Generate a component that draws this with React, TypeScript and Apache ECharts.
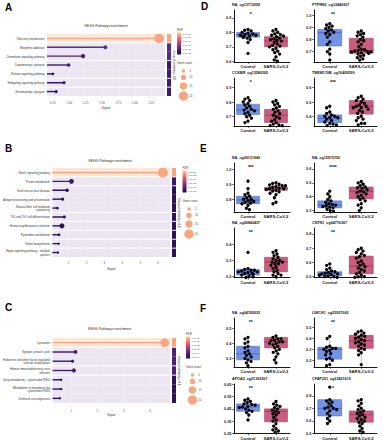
import React, { useEffect, useRef } from "react";
import * as echarts from "echarts";

const FONT = "'Liberation Sans', Arial, sans-serif";

// ===================== Panel A =====================
const A_PATHWAYS = [
  "Olfactory transduction",
  "Morphine addiction",
  "Chemokine signaling pathway",
  "Dopaminergic synapse",
  "Relaxin signaling pathway",
  "Hedgehog signaling pathway",
  "Glutamatergic synapse",
];
const A_SIGNAL = [2.37, 1.55, 1.21, 0.99, 0.75, 0.92, 0.8];
const A_GENES = [20, 6, 7, 5, 3, 4, 4];
const A_GROUP = [1, 2, 2, 3, 3, 4, 5];
const A_TICKS = [0.75, 1.0, 1.25, 1.5, 1.75, 2.0, 2.25];
const A_FDR_LABELS = ["1.0e-15", "1.0e-12", "1.0e-09", "1.0e-06", "1.0e-03", "1.0e-01"];

// ===================== Panel B =====================
const B_PATHWAYS = [
  "Notch signaling pathway",
  "Purine metabolism",
  "Graft-versus-host disease",
  "Antigen processing and presentation",
  "Natural killer cell mediated\ncytotoxicity",
  "Th1 and Th2 cell differentiation",
  "Human papillomavirus infection",
  "Pyrimidine metabolism",
  "Folate biosynthesis",
  "Hippo signaling pathway - multiple\nspecies",
];
const B_SIGNAL = [6.26, 1.16, 0.92, 0.67, 0.38, 0.76, 0.63, 0.47, 0.45, 0.41];
const B_GENES = [21, 9, 5, 4, 3, 4, 9, 3, 2, 2];
const B_GROUP = [1, 2, 3, 3, 3, 4, 5, 6, 7, 8];
const B_TICKS = [1, 2, 3, 4, 5, 6];
const B_FDR_LABELS = ["1.0e-27", "1.0e-22", "1.0e-17", "1.0e-12", "1.0e-07", "1.0e-02"];

// ===================== Panel C =====================
const C_PATHWAYS = [
  "Lysosome",
  "Synaptic vesicle cycle",
  "Endocrine and other factor-regulated\ncalcium reabsorption",
  "Human immunodeficiency virus\ninfection",
  "Drug metabolism - cytochrome P450",
  "Metabolism of xenobiotics by\ncytochrome P450",
  "Chemical carcinogenesis",
];
const C_SIGNAL = [4.56, 1.16, 1.05, 1.1, 0.62, 0.62, 0.57];
const C_GENES = [18, 6, 4, 7, 2, 2, 2];
const C_GROUP = [1, 2, 2, 3, 4, 4, 4];
const C_TICKS = [1, 2, 3, 4];
const C_FDR_LABELS = ["1.0e-20", "1.0e-16", "1.0e-12", "1.0e-08", "1.0e-04", "1.0e-01"];

const GENE_LEGEND = [5, 10, 15, 20];

// ===================== Box plots D, E, F =====================
const GROUPS = ["Control", "SARS-CoV-2"];
const BOX_TITLES = [
  "NA_cg13719295", "PTPRN2_cg12440927", "CCKBR_cg13580265", "TMEM176B_cg10409299",
  "NA_cg09131949", "NA_cg15975750", "NA_cg26840437", "CNTN1_cg04776307",
  "NA_cg04745032", "LIMCH1_cg25937062", "APOA2_cg21302307", "CFAP251_cg23821619",
];
const BOX_SIG = ["*", "**", "*", "***", "***", "****", "**", "**", "**", "**", "**", "*"];
// [min, Q1, median, Q3, max]
const CTRL_BOX = [
  [0.73, 0.767, 0.785, 0.8, 0.82],
  [0.63, 0.746, 0.856, 0.884, 0.93],
  [0.66, 0.715, 0.745, 0.785, 0.835],
  [0.335, 0.356, 0.385, 0.41, 0.47],
  [0.73, 0.77, 0.795, 0.82, 0.87],
  [0.295, 0.32, 0.34, 0.37, 0.44],
  [0.195, 0.21, 0.23, 0.245, 0.25],
  [0.495, 0.505, 0.52, 0.535, 0.59],
  [0.25, 0.29, 0.33, 0.38, 0.44],
  [0.15, 0.21, 0.3, 0.32, 0.42],
  [0.36, 0.43, 0.466, 0.49, 0.53],
  [0.58, 0.64, 0.7, 0.77, 0.77],
];
const SARS_BOX = [
  [0.6, 0.7, 0.74, 0.77, 0.82],
  [0.63, 0.686, 0.707, 0.81, 0.87],
  [0.64, 0.66, 0.71, 0.75, 0.81],
  [0.34, 0.415, 0.47, 0.51, 0.54],
  [0.83, 0.86, 0.87, 0.88, 0.91],
  [0.3, 0.385, 0.44, 0.47, 0.51],
  [0.2, 0.23, 0.29, 0.32, 0.36],
  [0.495, 0.52, 0.575, 0.645, 0.7],
  [0.27, 0.37, 0.41, 0.44, 0.45],
  [0.16, 0.31, 0.38, 0.43, 0.47],
  [0.26, 0.345, 0.43, 0.45, 0.51],
  [0.51, 0.59, 0.65, 0.68, 0.77],
];
const CTRL_PTS = [
  [0.82, 0.815, 0.81, 0.8, 0.795, 0.79, 0.785, 0.78, 0.78, 0.775, 0.77, 0.77, 0.765, 0.76, 0.75, 0.73, 0.655],
  [0.93, 0.92, 0.91, 0.9, 0.89, 0.88, 0.87, 0.86, 0.85, 0.84, 0.82, 0.78, 0.76, 0.72, 0.7, 0.68, 0.63],
  [0.83, 0.82, 0.81, 0.8, 0.79, 0.78, 0.77, 0.76, 0.75, 0.745, 0.74, 0.73, 0.72, 0.71, 0.7, 0.69, 0.67, 0.66],
  [0.47, 0.46, 0.43, 0.42, 0.41, 0.4, 0.4, 0.39, 0.39, 0.38, 0.37, 0.36, 0.35, 0.345, 0.34, 0.335],
  [0.92, 0.87, 0.84, 0.83, 0.82, 0.81, 0.8, 0.8, 0.79, 0.785, 0.78, 0.775, 0.77, 0.76, 0.74, 0.73],
  [0.44, 0.42, 0.4, 0.38, 0.37, 0.36, 0.35, 0.345, 0.34, 0.335, 0.33, 0.325, 0.32, 0.31, 0.3, 0.295],
  [0.35, 0.25, 0.245, 0.24, 0.24, 0.235, 0.23, 0.23, 0.225, 0.22, 0.22, 0.215, 0.21, 0.205, 0.2, 0.195],
  [0.59, 0.58, 0.56, 0.55, 0.54, 0.535, 0.53, 0.525, 0.52, 0.52, 0.515, 0.51, 0.505, 0.5, 0.5, 0.495],
  [0.44, 0.43, 0.41, 0.4, 0.38, 0.37, 0.35, 0.34, 0.33, 0.32, 0.31, 0.3, 0.29, 0.28, 0.27, 0.25],
  [0.42, 0.4, 0.33, 0.32, 0.31, 0.31, 0.3, 0.29, 0.28, 0.26, 0.25, 0.22, 0.21, 0.2, 0.16, 0.15],
  [0.53, 0.52, 0.51, 0.5, 0.49, 0.485, 0.48, 0.47, 0.465, 0.46, 0.45, 0.44, 0.43, 0.42, 0.4, 0.36],
  [0.87, 0.77, 0.76, 0.75, 0.74, 0.72, 0.71, 0.7, 0.7, 0.69, 0.68, 0.66, 0.64, 0.62, 0.6, 0.58],
];
const SARS_PTS = [
  [0.82, 0.81, 0.8, 0.79, 0.785, 0.78, 0.775, 0.77, 0.76, 0.755, 0.75, 0.745, 0.74, 0.73, 0.72, 0.71, 0.705, 0.7, 0.69, 0.68, 0.67, 0.66, 0.65, 0.63, 0.61, 0.6],
  [0.87, 0.86, 0.85, 0.84, 0.83, 0.82, 0.8, 0.79, 0.78, 0.76, 0.74, 0.72, 0.715, 0.71, 0.705, 0.7, 0.7, 0.695, 0.69, 0.685, 0.68, 0.67, 0.66, 0.65, 0.64, 0.63],
  [0.81, 0.8, 0.79, 0.78, 0.77, 0.76, 0.75, 0.74, 0.73, 0.72, 0.71, 0.7, 0.69, 0.68, 0.67, 0.66, 0.65, 0.645, 0.64, 0.64],
  [0.54, 0.53, 0.52, 0.51, 0.5, 0.49, 0.48, 0.47, 0.47, 0.46, 0.46, 0.45, 0.44, 0.43, 0.42, 0.4, 0.39, 0.38, 0.37, 0.35, 0.35, 0.34],
  [0.91, 0.905, 0.9, 0.895, 0.89, 0.89, 0.885, 0.88, 0.875, 0.87, 0.87, 0.865, 0.86, 0.855, 0.85, 0.84, 0.83, 0.81, 0.78, 0.77],
  [0.51, 0.5, 0.49, 0.48, 0.47, 0.465, 0.46, 0.45, 0.44, 0.435, 0.43, 0.42, 0.41, 0.4, 0.39, 0.38, 0.37, 0.35, 0.34, 0.32, 0.3],
  [0.36, 0.35, 0.34, 0.33, 0.32, 0.31, 0.3, 0.3, 0.29, 0.29, 0.28, 0.28, 0.27, 0.26, 0.25, 0.24, 0.23, 0.22, 0.21, 0.21, 0.2],
  [0.7, 0.69, 0.68, 0.67, 0.66, 0.65, 0.64, 0.63, 0.61, 0.6, 0.59, 0.58, 0.57, 0.56, 0.55, 0.54, 0.53, 0.52, 0.51, 0.5, 0.5, 0.495],
  [0.45, 0.44, 0.43, 0.43, 0.42, 0.42, 0.41, 0.41, 0.4, 0.4, 0.39, 0.38, 0.37, 0.36, 0.35, 0.34, 0.33, 0.31, 0.29, 0.27],
  [0.47, 0.46, 0.45, 0.44, 0.43, 0.42, 0.41, 0.4, 0.39, 0.38, 0.37, 0.36, 0.35, 0.34, 0.33, 0.31, 0.3, 0.29, 0.27, 0.25, 0.16],
  [0.51, 0.49, 0.48, 0.47, 0.46, 0.45, 0.44, 0.43, 0.42, 0.41, 0.4, 0.38, 0.36, 0.35, 0.33, 0.31, 0.29, 0.28, 0.27, 0.26],
  [0.77, 0.76, 0.74, 0.72, 0.7, 0.69, 0.68, 0.67, 0.66, 0.65, 0.64, 0.63, 0.62, 0.61, 0.6, 0.59, 0.58, 0.56, 0.54, 0.52, 0.51],
];
const BOX_YMIN = [0.595, 0.614, 0.637, 0.332, 0.715, 0.29, 0.194, 0.493, 0.242, 0.138, 0.25, 0.5];
const BOX_YMAX = [0.955, 1.044, 0.963, 0.668, 1.042, 0.643, 0.5, 0.842, 0.569, 0.589, 0.652, 0.895];
const BOX_TICKS = [
  [0.6, 0.7, 0.8, 0.9], [0.7, 0.8, 0.9, 1.0], [0.7, 0.8, 0.9], [0.4, 0.5, 0.6],
  [0.8, 0.9, 1.0], [0.3, 0.4, 0.5, 0.6], [0.2, 0.3, 0.4], [0.5, 0.6, 0.7, 0.8],
  [0.3, 0.4, 0.5], [0.2, 0.3, 0.4, 0.5], [0.25, 0.35, 0.45, 0.55, 0.65], [0.5, 0.6, 0.7, 0.8],
];

// ===================== Layout & styles =====================
const LOLLI_LAYOUT = [
  { left: 47, top: 34, width: 118, height: 62, xMin: 0.66, xMax: 2.46, titleY: 26, labelMargin: 5, legendX: 177, legendY: 30, letter: "A", letterY: 2 },
  { left: 50, top: 168, width: 120, height: 89, xMin: 0.1, xMax: 6.66, titleY: 161, labelMargin: 4.5, legendX: 182.5, legendY: 168, letter: "B", letterY: 143 },
  { left: 49, top: 338, width: 121, height: 65, xMin: 0.29, xMax: 4.76, titleY: 329, labelMargin: 6, legendX: 186, legendY: 334, letter: "C", letterY: 302 },
];
const BOX_COL_LEFT = [234, 314];
const BOX_COL_WIDTH = [56, 63];
const BOX_ROW_TOP = [10, 78, 163, 228, 318, 384];
const BOX_ROW_BOTTOM = [62, 126, 212, 277.7, 367, 434];
const BOX_LETTERS = [
  { t: "D", x: 201, y: 1 },
  { t: "E", x: 200, y: 143 },
  { t: "F", x: 200, y: 303 },
];

const PEACH = "#f7a67f";
const PEACH_BG = "#fbe7da";
const LAV_BG = "#ebe6f2";
const A_DOT_COLORS = [PEACH, "#5d2b84", "#4d2277", "#3f1a6b", "#2e1159", "#3a1566", "#2e1159"];
const B_DOT_COLORS = [PEACH, "#431c70", "#2f115a", "#2f115a", "#2a0f55", "#2f115a", "#2f115a", "#2a0f55", "#2a0f55", "#2a0f55"];
const C_DOT_COLORS = [PEACH, "#4b1f74", "#3e196b", "#4b1f74", "#2a0f55", "#2a0f55", "#2a0f55"];
const A_GROUP_COLORS = [PEACH, "#5a2a82", "#3e1a6a", "#3e1a6a", "#3e1a6a"];
const B_GROUP_COLORS = [PEACH, "#3d1868", "#2e1258", "#2e1258", "#2e1258", "#2e1258", "#2e1258", "#2e1258"];
const C_GROUP_COLORS = [PEACH, "#4b1f74", "#4b1f74", "#2e1258"];
const FDR_GRADIENT = ["#fcc9a3", "#f7906f", "#e4566a", "#b5377a", "#7a2682", "#40156b", "#1c0b45"];
const CTRL_FILL = "#7393e6";
const CTRL_LINE = "#4563bd";
const SARS_FILL = "#ca5d82";
const SARS_LINE = "#9a3559";
const WHISKER = "#777777";

const dotSize = (n: number) => 2 * (0.75 + 0.2 * n);

function buildOption() {
  const grid: any[] = [];
  const xAxis: any[] = [];
  const yAxis: any[] = [];
  const series: any[] = [];
  const graphic: any[] = [];

  const lolli = [
    { names: A_PATHWAYS, signal: A_SIGNAL, genes: A_GENES, group: A_GROUP, ticks: A_TICKS, fdr: A_FDR_LABELS, dots: A_DOT_COLORS, gcol: A_GROUP_COLORS, digits: 2 },
    { names: B_PATHWAYS, signal: B_SIGNAL, genes: B_GENES, group: B_GROUP, ticks: B_TICKS, fdr: B_FDR_LABELS, dots: B_DOT_COLORS, gcol: B_GROUP_COLORS, digits: 0 },
    { names: C_PATHWAYS, signal: C_SIGNAL, genes: C_GENES, group: C_GROUP, ticks: C_TICKS, fdr: C_FDR_LABELS, dots: C_DOT_COLORS, gcol: C_GROUP_COLORS, digits: 0 },
  ];

  lolli.forEach((p, k) => {
    const L = LOLLI_LAYOUT[k];
    const gi = grid.length;
    grid.push({ left: L.left, top: L.top, width: L.width, height: L.height, containLabel: false });
    xAxis.push({
      type: "value", gridIndex: gi, min: L.xMin, max: L.xMax,
      axisLine: { show: false }, axisTick: { show: false }, splitLine: { show: false },
      axisLabel: {
        customValues: p.ticks, fontSize: 2.9, color: "#4d4d4d", margin: L.labelMargin, fontFamily: FONT,
        formatter: (v: number) => v.toFixed(p.digits),
      },
      name: "Signal", nameLocation: "middle", nameGap: 10.5,
      nameTextStyle: { fontSize: 3, color: "#333", fontFamily: FONT },
    });
    yAxis.push({
      type: "category", gridIndex: gi, data: p.names, inverse: true,
      axisLine: { show: false }, axisTick: { show: false }, splitLine: { show: false },
      axisLabel: { fontSize: 2.9, color: "#333", margin: 2.5, lineHeight: 3.3, fontFamily: FONT, interval: 0 },
    });
    const ticks = p.ticks;
    series.push({
      type: "custom", xAxisIndex: gi, yAxisIndex: gi, z: 1, silent: true,
      data: p.names.map((_, i) => [L.xMin, i]),
      encode: { x: 0, y: 1 },
      renderItem: (params: any, api: any) => {
        const idx = api.value(1);
        const cs = params.coordSys;
        const yc = api.coord([L.xMin, idx])[1];
        const h = api.size([0, 1])[1];
        const g = p.group[idx];
        const children: any[] = [
          { type: "rect", shape: { x: cs.x, y: yc - h / 2, width: cs.width, height: h }, style: { fill: g === p.group[0] ? PEACH_BG : LAV_BG } },
        ];
        ticks.forEach((t) => {
          const tx = api.coord([t, idx])[0];
          children.push({ type: "line", shape: { x1: tx, y1: yc - h / 2, x2: tx, y2: yc + h / 2 }, style: { stroke: "rgba(255,255,255,0.7)", lineWidth: 0.4 } });
        });
        children.push({ type: "rect", shape: { x: cs.x + cs.width + 2, y: yc - h / 2, width: 4, height: h }, style: { fill: p.gcol[g - 1] } });
        if (idx > 0 && p.group[idx - 1] !== g) {
          children.push({ type: "line", shape: { x1: cs.x, y1: yc - h / 2, x2: cs.x + cs.width + 6, y2: yc - h / 2 }, style: { stroke: "#ffffff", lineWidth: 0.9 } });
        }
        return { type: "group", children };
      },
    });
    series.push({
      type: "bar", xAxisIndex: gi, yAxisIndex: gi, z: 3, barWidth: 1.4, silent: true,
      data: p.signal.map((v, i) => ({ value: v, itemStyle: { color: p.dots[i] } })),
    });
    series.push({
      type: "scatter", xAxisIndex: gi, yAxisIndex: gi, z: 4, silent: true,
      data: p.signal.map((v, i) => ({ value: [v, i], symbolSize: dotSize(p.genes[i]), itemStyle: { color: p.dots[i], opacity: 1 } })),
    });

    graphic.push({ type: "text", x: L.left + L.width / 2, y: L.titleY, style: { text: "KEGG Pathways enrichment", fontSize: 3.4, fill: "#222", align: "center", verticalAlign: "middle", fontFamily: FONT } });
    graphic.push({ type: "text", x: 5, y: L.letterY, style: { text: L.letter, fontSize: 10, fontWeight: "bold", fill: "#000", fontFamily: FONT } });
    graphic.push({
      type: "text", x: L.left + L.width + 9, y: L.top + L.height / 2, rotation: -Math.PI / 2,
      style: { text: "Group of similarity \u2265 0.8", fontSize: 2.8, fill: "#333", align: "center", verticalAlign: "middle", fontFamily: FONT },
    });
    const lx = L.legendX, ly = L.legendY;
    graphic.push({ type: "text", x: lx, y: ly, style: { text: "FDR", fontSize: 2.9, fill: "#333", verticalAlign: "middle", fontFamily: FONT } });
    graphic.push({
      type: "rect", shape: { x: lx, y: ly + 2.5, width: 4, height: 22 },
      style: {
        fill: new echarts.graphic.LinearGradient(0, 0, 0, 1, FDR_GRADIENT.map((c, i) => ({ offset: i / (FDR_GRADIENT.length - 1), color: c }))),
      },
    });
    p.fdr.forEach((t, i) => {
      const yy = ly + 4 + (i * 19) / (p.fdr.length - 1);
      graphic.push({ type: "line", shape: { x1: lx, y1: yy, x2: lx + 0.8, y2: yy }, style: { stroke: "#fff", lineWidth: 0.3 } });
      graphic.push({ type: "text", x: lx + 5.5, y: yy, style: { text: t, fontSize: 2.4, fill: "#444", verticalAlign: "middle", fontFamily: FONT } });
    });
    graphic.push({ type: "text", x: lx, y: ly + 33, style: { text: "Gene count", fontSize: 2.9, fill: "#333", verticalAlign: "middle", fontFamily: FONT } });
    const cyo = [41, 47.5, 56, 66];
    GENE_LEGEND.forEach((n, i) => {
      graphic.push({ type: "circle", shape: { cx: lx + 6.5, cy: ly + cyo[i], r: dotSize(n) / 2 }, style: { fill: PEACH } });
      graphic.push({ type: "text", x: lx + 12.5, y: ly + cyo[i], style: { text: String(n), fontSize: 2.6, fill: "#444", verticalAlign: "middle", fontFamily: FONT } });
    });
  });

  BOX_TITLES.forEach((title, b) => {
    const col = b % 2;
    const row = Math.floor(b / 2);
    const left = BOX_COL_LEFT[col];
    const width = BOX_COL_WIDTH[col];
    const top = BOX_ROW_TOP[row];
    const height = BOX_ROW_BOTTOM[row] - top;
    const gi = grid.length;
    grid.push({ left, top, width, height, containLabel: false });
    xAxis.push({
      type: "category", gridIndex: gi, data: GROUPS, boundaryGap: true,
      jitter: 21, jitterOverlap: false, jitterMargin: 0.1,
      axisLine: { show: true, lineStyle: { color: "#000", width: 0.9 } },
      axisTick: { show: true, alignWithLabel: true, length: 1.8, lineStyle: { color: "#000", width: 0.6 } },
      axisLabel: { fontSize: 4.2, fontWeight: "bold", color: "#111", margin: 2.5, interval: 0, fontFamily: FONT },
      splitLine: { show: false },
    });
    const ticks = BOX_TICKS[b];
    const dec = ticks.some((t) => Math.abs(t * 10 - Math.round(t * 10)) > 1e-6) ? 2 : 1;
    yAxis.push({
      type: "value", gridIndex: gi, min: BOX_YMIN[b], max: BOX_YMAX[b],
      axisLine: { show: true, lineStyle: { color: "#000", width: 0.9 } },
      axisTick: { show: true, customValues: ticks, length: 1.8, lineStyle: { color: "#000", width: 0.6 } },
      axisLabel: { customValues: ticks, fontSize: 3.9, fontWeight: "bold", color: "#222", margin: 2.5, fontFamily: FONT, formatter: (v: number) => v.toFixed(dec) },
      splitLine: { show: false },
    });
    series.push({
      type: "custom", xAxisIndex: gi, yAxisIndex: gi, z: 2, silent: true,
      data: [[0, ...CTRL_BOX[b]], [1, ...SARS_BOX[b]]],
      encode: { x: 0, y: [1, 2, 3, 4, 5] },
      renderItem: (params: any, api: any) => {
        const cat = api.value(0);
        const vals = [api.value(1), api.value(2), api.value(3), api.value(4), api.value(5)];
        const x = api.coord([cat, vals[2]])[0];
        const ys = vals.map((v: number) => api.coord([cat, v])[1]);
        const band = api.size([1, 0])[0];
        const w = Math.min(24, band * 0.82);
        const fill = cat === 0 ? CTRL_FILL : SARS_FILL;
        const stroke = cat === 0 ? CTRL_LINE : SARS_LINE;
        return {
          type: "group",
          children: [
            { type: "line", shape: { x1: x, y1: ys[0], x2: x, y2: ys[1] }, style: { stroke: WHISKER, lineWidth: 0.5 } },
            { type: "line", shape: { x1: x, y1: ys[3], x2: x, y2: ys[4] }, style: { stroke: WHISKER, lineWidth: 0.5 } },
            { type: "rect", shape: { x: x - w / 2, y: ys[3], width: w, height: ys[1] - ys[3] }, style: { fill, stroke, lineWidth: 0.5 } },
            { type: "line", shape: { x1: x - w / 2, y1: ys[2], x2: x + w / 2, y2: ys[2] }, style: { stroke, lineWidth: 0.8 } },
          ],
        };
      },
    });
    series.push({
      type: "scatter", xAxisIndex: gi, yAxisIndex: gi, z: 5, silent: true, symbolSize: 3.3,
      itemStyle: { color: "#000", opacity: 1 },
      data: [...CTRL_PTS[b].map((v) => [0, v]), ...SARS_PTS[b].map((v) => [1, v])],
    });
    graphic.push({ type: "text", x: left - 2, y: top - 5, style: { text: title, fontSize: 3.7, fontWeight: "bold", fill: "#111", verticalAlign: "middle", fontFamily: FONT } });
    graphic.push({ type: "text", x: left + width * 0.3, y: top + 4, style: { text: BOX_SIG[b], fontSize: 5, fontWeight: "bold", fill: "#111", align: "center", verticalAlign: "middle", fontFamily: FONT } });
  });

  BOX_LETTERS.forEach((l) => {
    graphic.push({ type: "text", x: l.x, y: l.y, style: { text: l.t, fontSize: 10, fontWeight: "bold", fill: "#000", fontFamily: FONT } });
  });

  return {
    animation: false,
    backgroundColor: "#ffffff",
    textStyle: { fontFamily: FONT },
    grid, xAxis, yAxis, series, graphic,
  };
}

export default function App() {
  const ref = useRef<HTMLDivElement>(null);
  useEffect(() => {
    document.body.style.margin = "0";
    if (!ref.current) return;
    const chart = echarts.init(ref.current, undefined, { renderer: "svg" });
    chart.setOption(buildOption() as any);
    return () => chart.dispose();
  }, []);
  return <div ref={ref} style={{ width: 383, height: 440 }} />;
}
